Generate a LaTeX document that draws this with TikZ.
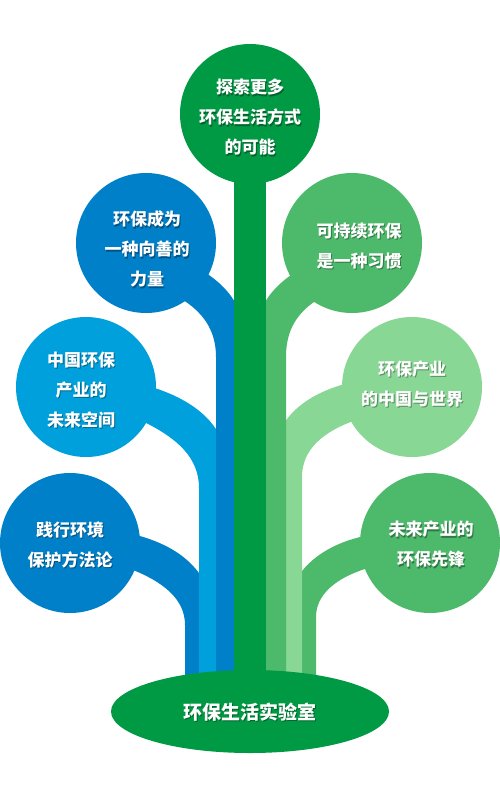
\documentclass[tikz,border=0pt]{standalone}
\usepackage{fontspec}
\newfontfamily\cjk{Noto Sans CJK SC}
\usetikzlibrary{shapes.geometric}
\definecolor{treegreen}{RGB}{0,154,68}
\definecolor{darkblue}{RGB}{0,128,200}
\definecolor{lightblue}{RGB}{0,160,220}
\definecolor{midgreen}{RGB}{76,185,107}
\definecolor{palegreen}{RGB}{136,215,149}
\newcommand\leaftext[3]{%
  \node[leafshadow] (#2-s) at ([shift={(1,1.5)}]#1) {#3};
  \node[leaftxt] (#2) at (#1) {#3};}

\begin{document}
\begin{tikzpicture}[x=1pt, y=-1pt,
  leaf/.style={circle, fill=#1, minimum size=140pt, inner sep=0pt},
  leaftxt/.style={text=white, align=center, inner sep=0pt,
    font=\cjk\bfseries\fontsize{17}{30}\selectfont},
  leafshadow/.style={leaftxt, text=black, opacity=.35}]
\useasboundingbox (0,0) rectangle (500,792);
% left branches, outermost first
\fill[darkblue] (128,533) .. controls (160,540) and (192,555) .. (206,585) -- (206,700) -- (185,700) -- (185,625) .. controls (185,600) and (165,582) .. (128,568) -- cycle;
\fill[lightblue] (145,385) .. controls (180,395) and (212,412) .. (224,445) -- (224,700) -- (199,700) -- (199,488) .. controls (199,458) and (178,438) .. (140,420) -- cycle;
\fill[darkblue] (198,268) .. controls (222,282) and (240,300) .. (245,330) -- (245,700) -- (216,700) -- (216,357) .. controls (216,330) and (203,312) .. (180,298) -- cycle;
% right branches
\fill[midgreen] (370,535) .. controls (340,540) and (310,555) .. (296,580) -- (296,700) -- (316,700) -- (316,617) .. controls (316,595) and (335,578) .. (368,568) -- cycle;
\fill[palegreen] (352,382) .. controls (320,390) and (290,405) .. (278,435) -- (278,700) -- (302,700) -- (302,477) .. controls (302,450) and (322,432) .. (356,420) -- cycle;
\fill[midgreen] (302,268) .. controls (278,282) and (260,300) .. (255,330) -- (255,700) -- (286,700) -- (286,357) .. controls (286,330) and (297,312) .. (320,298) -- cycle;
% trunk
\fill[treegreen] (234,150) rectangle (266,700);

\node[leaf=treegreen] (top) at (250,114) {};
\node[leaf=darkblue] (l1) at (146,243) {};
\node[leaf=lightblue] (l2) at (86,387) {};
\node[leaf=darkblue] (l3) at (70,543) {};
\node[leaf=midgreen] (r1) at (352,243) {};
\node[leaf=palegreen] (r2) at (412,387) {};
\node[leaf=midgreen] (r3) at (430,543) {};
\node[ellipse, fill=treegreen, minimum width=278pt, minimum height=83pt] (base) at (250,711.5) {};

\leaftext{250,117}{t-top}{探索更多\\环保生活方式\\的可能}
\leaftext{147,249}{t-l1}{环保成为\\一种向善的\\力量}
\leaftext{81,390}{t-l2}{中国环保\\产业的\\未来空间}
\leaftext{70,544.5}{t-l3}{践行环境\\保护方法论}
\leaftext{359,246}{t-r1}{可持续环保\\是一种习惯}
\leaftext{412,384}{t-r2}{环保产业\\的中国与世界}
\leaftext{431,544.5}{t-r3}{未来产业的\\环保先锋}
\node[leafshadow, font=\cjk\bfseries\fontsize{19}{30}\selectfont] (t-base-s) at ([shift={(1,1.5)}]250,712) {环保生活实验室};
\node[leaftxt, font=\cjk\bfseries\fontsize{19}{30}\selectfont] (t-base) at (250,712) {环保生活实验室};
\end{tikzpicture}
\end{document}
